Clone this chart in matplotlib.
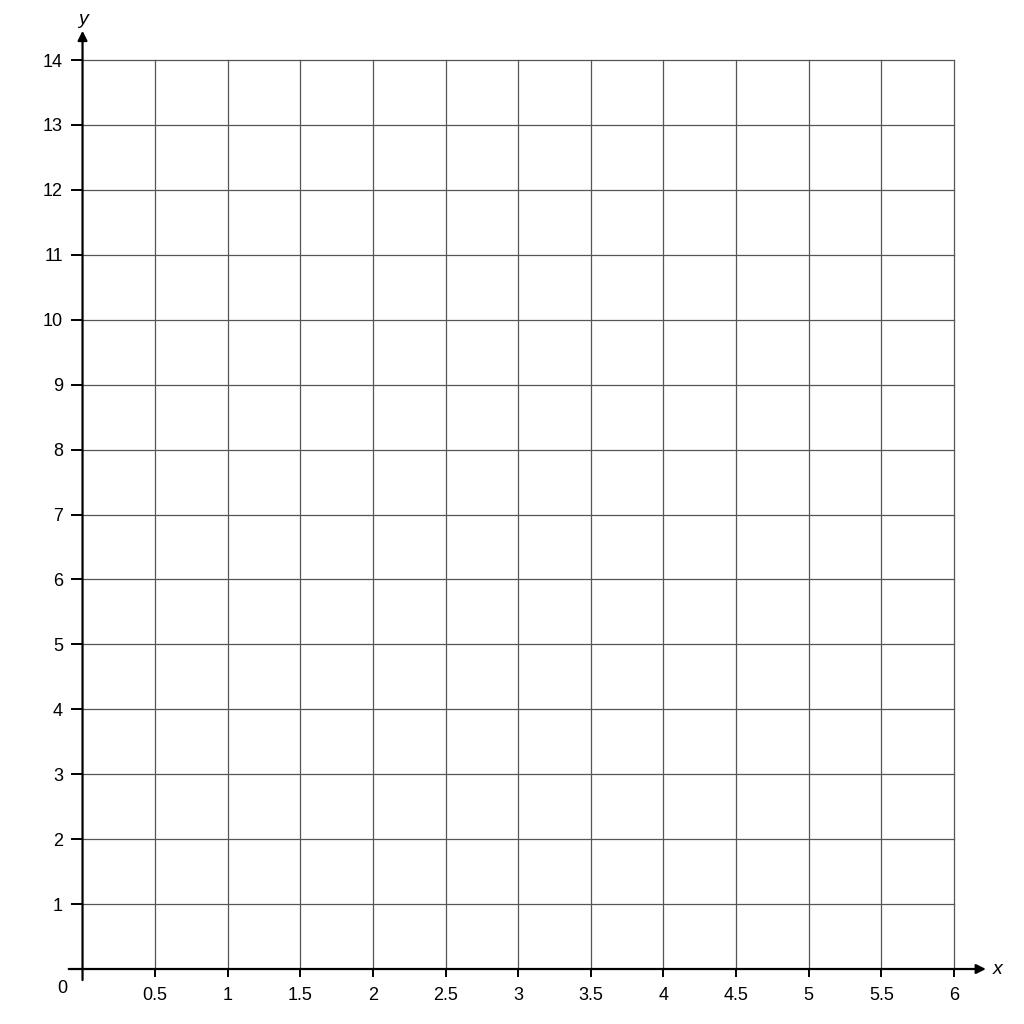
import matplotlib

matplotlib.use("Agg")

import matplotlib.pyplot as plt  # noqa: E402

plt.rcParams["font.family"] = ["Liberation Sans", "DejaVu Sans"]

# 坐标刻度
x_ticks = [0.5, 1, 1.5, 2, 2.5, 3, 3.5, 4, 4.5, 5, 5.5, 6]
x_labels = ["0.5", "1", "1.5", "2", "2.5", "3", "3.5", "4", "4.5", "5", "5.5", "6"]
y_ticks = list(range(1, 15))
y_labels = [str(v) for v in y_ticks]

fig = plt.figure(figsize=(10.24, 10.24), dpi=100)
ax = fig.add_axes([0.0806, 0.0537, 0.851, 0.8877])
ax.set_xlim(0, 6)
ax.set_ylim(0, 14)

for s in ax.spines.values():
    s.set_visible(False)

ax.set_xticks(x_ticks, x_labels)
ax.set_yticks(y_ticks, y_labels)
ax.tick_params(axis="x", direction="out", length=6, width=1.4, pad=7, labelsize=13)
ax.tick_params(axis="y", direction="out", length=9, width=1.4, pad=5, labelsize=13)
ax.grid(True, color="#555555", linewidth=0.9)
ax.set_axisbelow(True)
# 边缘网格线（x=6, y=14）不要被裁掉一半
for gl in ax.get_xgridlines() + ax.get_ygridlines():
    gl.set_clip_on(False)

# 带箭头的坐标轴
arrow = dict(arrowstyle="-|>", color="black", lw=1.6, mutation_scale=14,
             shrinkA=0, shrinkB=0)
ax.annotate("", xy=(6.22, 0), xytext=(-0.095, 0), arrowprops=arrow,
            annotation_clip=False)
ax.annotate("", xy=(0, 14.45), xytext=(0, -0.17), arrowprops=arrow,
            annotation_clip=False)

ax.text(6.27, 0, "x", fontsize=14, style="italic", va="center", ha="left")
ax.text(0, 14.62, "y", fontsize=14, style="italic", va="center", ha="center")
ax.text(-0.14, -0.3, "0", fontsize=13, va="center", ha="center")

fig.savefig("out.png", dpi=100, facecolor="white")
plt.close(fig)
